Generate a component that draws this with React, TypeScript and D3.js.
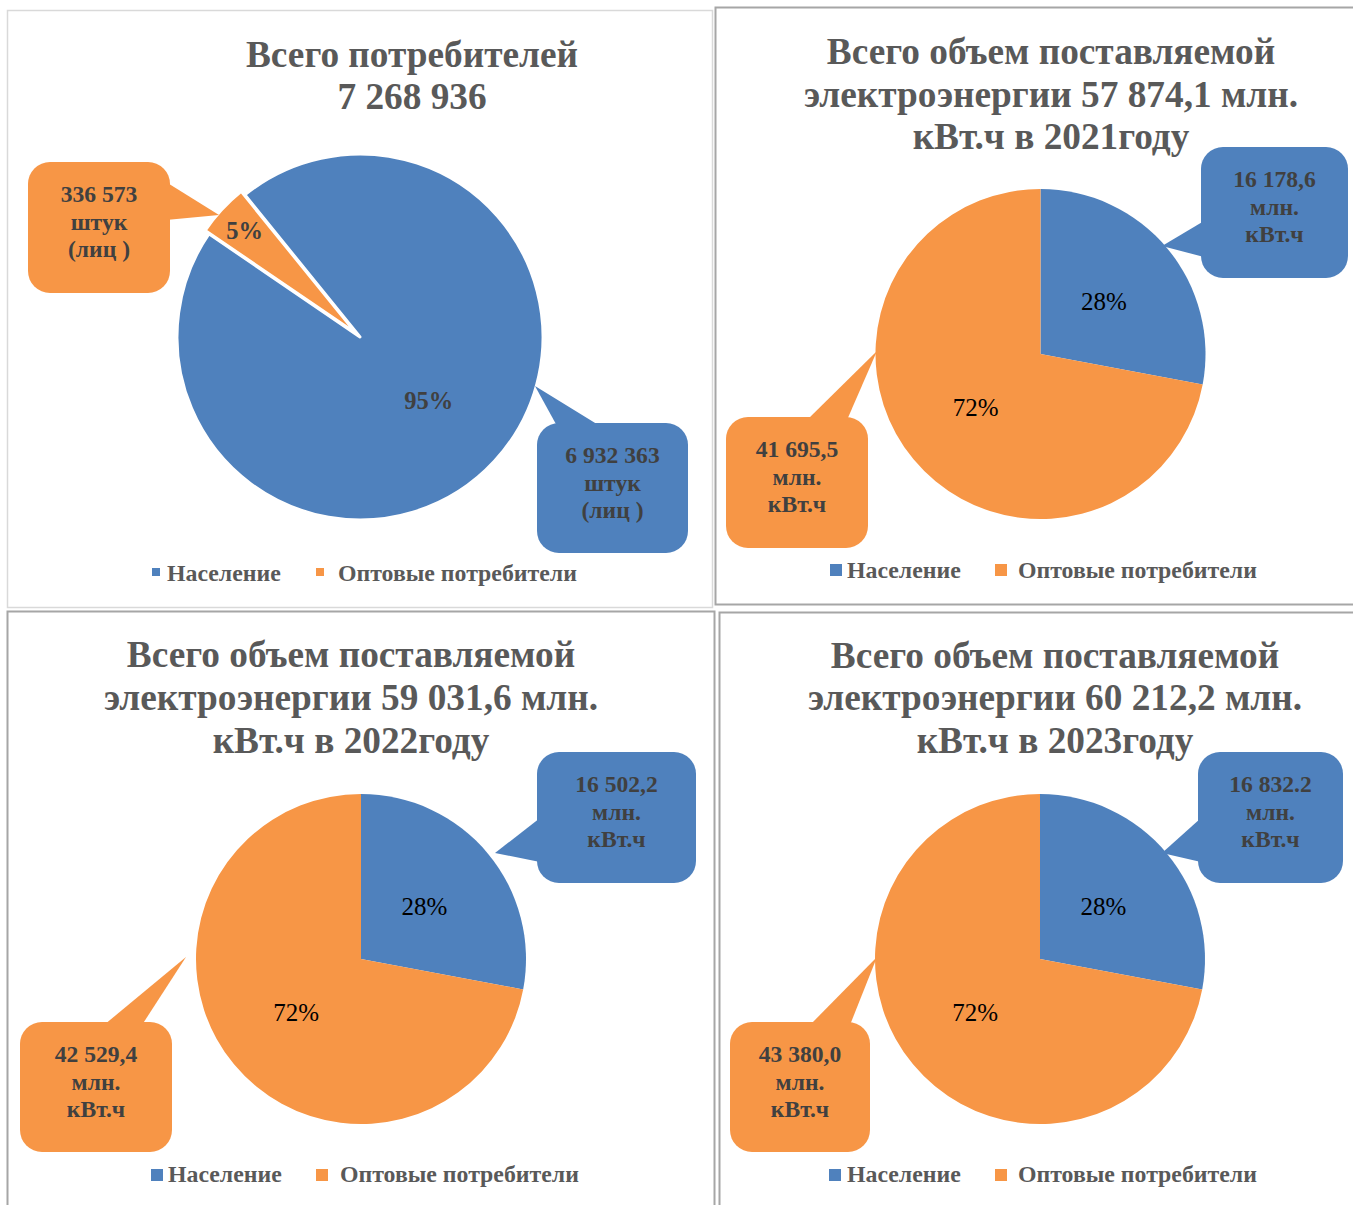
import React from "react";
import * as d3 from "d3";

// ---------- DATA ----------
const categories = ["Население", "Оптовые потребители"];
const consumers = [6932363, 336573];
const energy2021 = [16178.6, 41695.5];
const energy2022 = [16502.2, 42529.4];
const energy2023 = [16832.2, 43380.0];

const titleConsumers = ["Всего потребителей", "7 268 936"];
const title2021 = ["Всего объем поставляемой", "электроэнергии 57 874,1 млн.", "кВт.ч в 2021году"];
const title2022 = ["Всего объем поставляемой", "электроэнергии 59 031,6 млн.", "кВт.ч в 2022году"];
const title2023 = ["Всего объем поставляемой", "электроэнергии 60 212,2 млн.", "кВт.ч в 2023году"];

const calloutConsumers = [["6 932 363", "штук", "(лиц )"], ["336 573", "штук", "(лиц )"]];
const callout2021 = [["16 178,6", "млн.", "кВт.ч"], ["41 695,5", "млн.", "кВт.ч"]];
const callout2022 = [["16 502,2", "млн.", "кВт.ч"], ["42 529,4", "млн.", "кВт.ч"]];
const callout2023 = [["16 832.2", "млн.", "кВт.ч"], ["43 380,0", "млн.", "кВт.ч"]];

const colors = ["#4F81BD", "#F79646"];

// ---------- LAYOUT ----------
type Callout = { x: number; y: number; w: number; h: number; tail: [number, number][] };
type Panel = {
  values: number[];
  title: string[];
  callouts: string[][];
  border: { x: number; y: number; w: number; h: number; stroke: string; sw: number };
  titleX: number;
  titleY: number[];
  cx: number;
  cy: number;
  r: number;
  start: number;
  stroke: number;
  explode: number[];
  labelR: number[];
  labelBold: boolean;
  labelColor: string;
  labelSize: number;
  box: Callout[];
  legend: { sq: number; sqX: number[]; sqY: number; txX: number[]; txY: number };
};

const deg = Math.PI / 180;

const panels: Panel[] = [
  {
    values: consumers,
    title: titleConsumers,
    callouts: calloutConsumers,
    border: { x: 7.5, y: 10.5, w: 705, h: 597, stroke: "#d9d9d9", sw: 1.5 },
    titleX: 412,
    titleY: [67, 109],
    cx: 360,
    cy: 337,
    r: 183,
    start: -39 * deg,
    stroke: 3,
    explode: [0, 5],
    labelR: [0.51, 0.83],
    labelBold: true,
    labelColor: "#404040",
    labelSize: 24.5,
    box: [
      { x: 537, y: 423, w: 151, h: 130, tail: [[557, 426], [535, 386], [600, 426]] },
      { x: 28, y: 162, w: 142, h: 131, tail: [[166, 182], [219, 215], [166, 220]] },
    ],
    legend: { sq: 8, sqX: [152, 316], sqY: 568, txX: [167, 338], txY: 581 },
  },
  {
    values: energy2021,
    title: title2021,
    callouts: callout2021,
    border: { x: 715.5, y: 7.5, w: 645, h: 597, stroke: "#a6a6a6", sw: 2 },
    titleX: 1051,
    titleY: [64, 107, 149],
    cx: 1040.5,
    cy: 354,
    r: 165,
    start: 0,
    stroke: 0,
    explode: [0, 0],
    labelR: [0.5, 0.51],
    labelBold: false,
    labelColor: "#000000",
    labelSize: 25,
    box: [
      { x: 1201, y: 147, w: 147, h: 131, tail: [[1204, 221], [1162, 246], [1204, 257]] },
      { x: 726, y: 417, w: 142, h: 131, tail: [[807, 420], [877, 351], [847, 420]] },
    ],
    legend: { sq: 12, sqX: [830, 995], sqY: 564, txX: [847, 1018], txY: 578 },
  },
  {
    values: energy2022,
    title: title2022,
    callouts: callout2022,
    border: { x: 7.5, y: 611.5, w: 707, h: 600, stroke: "#a6a6a6", sw: 2 },
    titleX: 351,
    titleY: [667, 710, 753],
    cx: 361,
    cy: 959,
    r: 165,
    start: 0,
    stroke: 0,
    explode: [0, 0],
    labelR: [0.5, 0.51],
    labelBold: false,
    labelColor: "#000000",
    labelSize: 25,
    box: [
      { x: 537, y: 752, w: 159, h: 131, tail: [[540, 818], [495, 853], [540, 862]] },
      { x: 20, y: 1022, w: 152, h: 130, tail: [[104, 1025], [186, 957], [142, 1025]] },
    ],
    legend: { sq: 12, sqX: [151, 316], sqY: 1169, txX: [168, 340], txY: 1182 },
  },
  {
    values: energy2023,
    title: title2023,
    callouts: callout2023,
    border: { x: 719.5, y: 612.5, w: 645, h: 600, stroke: "#a6a6a6", sw: 2 },
    titleX: 1055,
    titleY: [668, 710, 753],
    cx: 1040,
    cy: 959,
    r: 165,
    start: 0,
    stroke: 0,
    explode: [0, 0],
    labelR: [0.5, 0.51],
    labelBold: false,
    labelColor: "#000000",
    labelSize: 25,
    box: [
      { x: 1198, y: 752, w: 145, h: 131, tail: [[1201, 818], [1162, 853], [1201, 862]] },
      { x: 730, y: 1022, w: 140, h: 130, tail: [[810, 1025], [877, 957], [850, 1025]] },
    ],
    legend: { sq: 12, sqX: [829, 995], sqY: 1169, txX: [847, 1018], txY: 1182 },
  },
];

const pctFmt = d3.format(".0%");

function PiePanel({ p }: { p: Panel }) {
  const pie = d3
    .pie<number>()
    .sort(null)
    .value((d) => d)
    .startAngle(p.start)
    .endAngle(p.start + 2 * Math.PI);
  const arcs = pie(p.values);
  const total = d3.sum(p.values);
  const arc = d3.arc<d3.PieArcDatum<number>>().innerRadius(0).outerRadius(p.r);

  return (
    <g>
      <rect
        x={p.border.x}
        y={p.border.y}
        width={p.border.w}
        height={p.border.h}
        fill="#ffffff"
        stroke={p.border.stroke}
        strokeWidth={p.border.sw}
      />
      {p.title.map((t, i) => (
        <text
          key={i}
          x={p.titleX}
          y={p.titleY[i]}
          textAnchor="middle"
          fontSize={37.3}
          fontWeight="bold"
          fill="#595959"
        >
          {t}
        </text>
      ))}
      <g transform={`translate(${p.cx},${p.cy})`}>
        {arcs.map((a, i) => {
          const mid = (a.startAngle + a.endAngle) / 2;
          const ox = Math.sin(mid) * p.explode[i];
          const oy = -Math.cos(mid) * p.explode[i];
          return (
            <path
              key={i}
              d={arc(a) || ""}
              transform={`translate(${ox},${oy})`}
              fill={colors[i]}
              stroke={p.stroke ? "#ffffff" : "none"}
              strokeWidth={p.stroke}
              strokeLinejoin="round"
            />
          );
        })}
      </g>
      {p.box.map((b, i) => {
        const lines = p.callouts[i];
        return (
          <g key={i}>
            <polygon points={b.tail.map((pt) => pt.join(",")).join(" ")} fill={colors[i]} />
            <rect x={b.x} y={b.y} width={b.w} height={b.h} rx={22} ry={22} fill={colors[i]} />
            {lines.map((l, j) => (
              <text
                key={j}
                x={b.x + b.w / 2}
                y={b.y + 40 + j * 27.5}
                textAnchor="middle"
                fontSize={23.6}
                fontWeight="bold"
                fill="#404040"
              >
                {l}
              </text>
            ))}
          </g>
        );
      })}
      {arcs.map((a, i) => {
        const mid = (a.startAngle + a.endAngle) / 2;
        const rr = p.r * p.labelR[i] + p.explode[i];
        return (
          <text
            key={i}
            x={p.cx + Math.sin(mid) * rr}
            y={p.cy - Math.cos(mid) * rr}
            dy="0.35em"
            textAnchor="middle"
            fontSize={p.labelSize}
            fontWeight={p.labelBold ? "bold" : "normal"}
            fill={p.labelColor}
          >
            {pctFmt(a.data / total)}
          </text>
        );
      })}
      {categories.map((c, i) => (
        <g key={c}>
          <rect
            x={p.legend.sqX[i]}
            y={p.legend.sqY}
            width={p.legend.sq}
            height={p.legend.sq}
            fill={colors[i]}
          />
          <text x={p.legend.txX[i]} y={p.legend.txY} fontSize={23.8} fontWeight="bold" fill="#595959">
            {c}
          </text>
        </g>
      ))}
    </g>
  );
}

export default function App() {
  return (
    <svg
      width={1353}
      height={1205}
      style={{ position: "absolute", left: 0, top: 0 }}
      fontFamily="'Liberation Serif', 'Times New Roman', serif"
    >
      <rect x={0} y={0} width={1353} height={1205} fill="#ffffff" />
      {panels.map((p, i) => (
        <PiePanel key={i} p={p} />
      ))}
    </svg>
  );
}
